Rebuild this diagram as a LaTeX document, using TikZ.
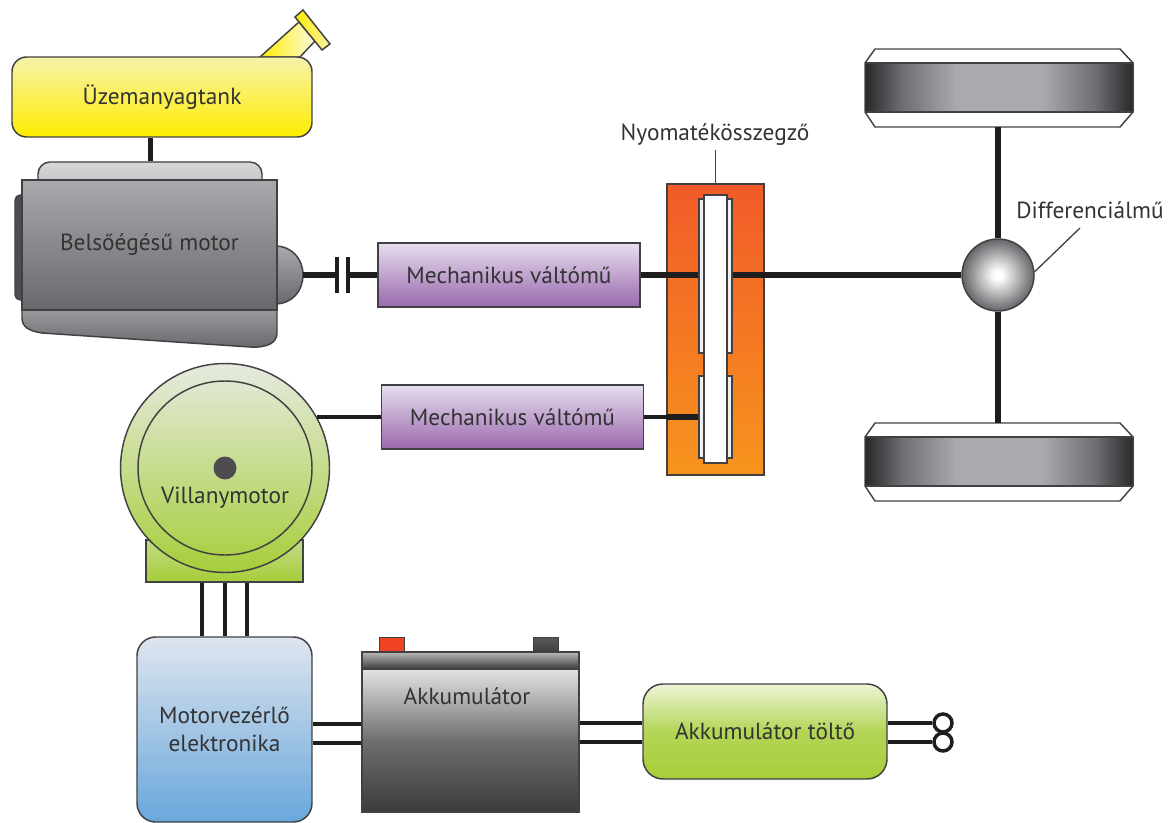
\documentclass[tikz,border=0pt]{standalone}
\usepackage{fontspec}
\setmainfont{PT Sans}
\usetikzlibrary{calc}

\definecolor{tankyellow}{RGB}{255,237,0}
\definecolor{tanklight}{RGB}{246,242,170}
\definecolor{covertop}{RGB}{214,215,217}
\definecolor{coverbot}{RGB}{186,188,190}
\definecolor{englight}{RGB}{168,169,172}
\definecolor{engdark}{RGB}{104,105,108}
\definecolor{engcap}{RGB}{77,77,79}
\definecolor{gbtop}{RGB}{230,222,238}
\definecolor{gbbot}{RGB}{154,104,174}
\definecolor{cpltop}{RGB}{241,90,41}
\definecolor{cplbot}{RGB}{247,148,29}
\definecolor{mlight}{RGB}{230,234,224}
\definecolor{mgreen}{RGB}{166,206,57}
\definecolor{ctrltop}{RGB}{222,229,238}
\definecolor{ctrlbot}{RGB}{104,167,220}
\definecolor{battlight}{RGB}{226,227,228}
\definecolor{battdark}{RGB}{60,60,62}
\definecolor{tyredark}{RGB}{40,40,42}
\definecolor{tyremid}{RGB}{110,111,114}
\definecolor{tyrelight}{RGB}{168,170,173}
\definecolor{balledge}{RGB}{100,101,104}
\definecolor{outline}{RGB}{65,64,66}
\definecolor{txtgray}{RGB}{51,51,51}
\definecolor{shaftblack}{RGB}{30,30,30}
\definecolor{plusred}{RGB}{239,65,35}

\pgfdeclarehorizontalshading{tyre}{100bp}{color(0bp)=(tyredark); color(25bp)=(tyredark); color(32bp)=(tyremid); color(42bp)=(tyrelight); color(58bp)=(tyrelight); color(68bp)=(tyremid); color(75bp)=(tyredark); color(100bp)=(tyredark)}
\pgfdeclareradialshading{diffball}{\pgfpoint{0bp}{0bp}}{color(0bp)=(white); color(3bp)=(white); color(25bp)=(balledge); color(50bp)=(balledge)}

\newcommand{\labelfont}{\fontsize{17.5pt}{21pt}\selectfont}

\tikzset{every picture/.style={line width=0.75pt}}
\tikzset{
	part/.style={draw=outline, line width=1.1pt, inner sep=0pt, text=txtgray, font=\labelfont},
	gearbox/.style={part, top color=gbtop, bottom color=gbbot, minimum width=196.5pt, minimum height=48pt},
	pad/.style={part, line width=0.8pt, fill=gray!12, minimum width=24.75pt},
	shaft/.style={draw=shaftblack, line width=4.5pt},
	wire/.style={draw=shaftblack, line width=3pt},
	leader/.style={draw=outline, line width=1pt},
	lbl/.style={inner sep=0pt, text=txtgray, font=\labelfont},
	plug/.style={circle, draw=shaftblack, line width=2.6pt, fill=white, minimum size=13.5pt, inner sep=0pt},
}

\begin{document}
\begin{tikzpicture}[x=0.75pt,y=0.75pt,yscale=-1,xscale=1]
	\path[use as bounding box] (0,0) rectangle (1173,823);

	%Shape: Filler neck and cap
	\draw[draw=outline, line width=1.1pt, left color=tankyellow, right color=tanklight!40!white] (260,57) -- (299,22) -- (315,41) -- (300,57) -- cycle;
	\draw[draw=outline, line width=1.1pt, left color=tankyellow, right color=tanklight] (295,17) -- (303,10) -- (330,44) -- (322,50) -- cycle;
	% Fuel tank
	\node[part, top color=tanklight, bottom color=tankyellow, rounded corners=11pt, minimum width=225pt, minimum height=60pt] (tank) at (162,97) {Üzemanyagtank};

	%Shape: Engine cover, side cap, sump, flywheel housing
	\node[part, top color=covertop, bottom color=coverbot, rounded corners=9pt, minimum width=168pt, minimum height=24pt] (icetop) at (150,178) {};
	\draw[draw=outline, line width=1.1pt, fill=engcap, rounded corners=4pt] (24,195) -- (15,195) -- (15,300) -- (24,300);
	\draw[draw=outline, line width=1.1pt, top color=englight!80!engdark, bottom color=engdark] (22,308) -- (22,318) .. controls (22,327) and (29,331) .. (42,333) -- (250,347) .. controls (267,348) and (277,343) .. (277,333) -- (277,308) -- cycle;
	\draw[draw=outline, line width=1.1pt, top color=englight, bottom color=engdark] (275,246) .. controls (292,246) and (303,259) .. (303,275) .. controls (303,291) and (292,304) .. (275,304) -- cycle;
	% Combustion engine
	\node[part, top color=englight, bottom color=engdark, minimum width=191.25pt, minimum height=97.5pt] (ice) at (149.5,245) {Belsőégésű motor};
	\coordinate (flyw) at (303,275);
	\coordinate (clA) at (337,275);
	\coordinate (clB) at (348,275);

	%Straight Lines: fuel line
	\draw[shaft, line width=3.75pt] (icetop.north) -- (icetop.north |- tank.south);

	% Gearboxes
	\node[gearbox] (gbA) at (509,275) {Mechanikus váltómű};
	\node[gearbox] (gbB) at (512.5,417) {Mechanikus váltómű};

	%Straight Lines: clutch
	\draw[shaft] (flyw) -- (clA);
	\draw[shaft] (clB) -- (gbA.west);
	\foreach \c in {clA,clB}
		\draw[shaft, line width=3pt] ($(\c)+(0,-18)$) -- ($(\c)+(0,18)$);

	% Torque coupler
	\node[part, top color=cpltop, bottom color=cplbot, minimum width=72.75pt, minimum height=218.25pt] (cpl) at (715.5,329.5) {};
	\node[pad, minimum height=115.5pt] (padA) at (715.5,276) {};
	\node[pad, minimum height=61.5pt] (padB) at (715.5,417) {};
	\node[part, line width=0.8pt, fill=white, minimum width=17.25pt, minimum height=201pt] (disc) at (715.5,329) {};
	\node[lbl] (cpllbl) at (715,135) {Nyomatékösszegző};
	\draw[leader] (cpl.north) -- ($(cpl.north |- cpllbl.south)+(0,4)$);

	%Shape: Wheels
	\foreach \wy in {49,423} {
		\path[shading=tyre] (865,\wy+14) rectangle (1133,\wy+63);
		\draw[draw=outline, line width=1.1pt] (875,\wy) -- (1120,\wy) -- (1133,\wy+14) -- (1133,\wy+63) -- (1120,\wy+78) -- (875,\wy+78) -- (865,\wy+63) -- (865,\wy+14) -- cycle;
		\draw[draw=outline, line width=1.1pt] (865,\wy+14) -- (1133,\wy+14) (865,\wy+63) -- (1133,\wy+63);
	}
	\coordinate (axT) at (998,127);
	\coordinate (axB) at (998,423);

	% Differential
	\node[circle, draw=outline, line width=1.1pt, shading=diffball, minimum size=54pt, inner sep=0pt] (diff) at (998,275) {};
	\draw[shaft] (diff.north) -- (axT);
	\draw[shaft] (diff.south) -- (axB);
	\node[lbl] (difflbl) at (1090,210) {Differenciálmű};
	\coordinate (diffpin) at (1080,228);
	\draw[leader] (diffpin) -- (diff.5);

	%Straight Lines: shafts through the coupler
	\draw[shaft] (gbA.east) -- (padA.west |- gbA.east);
	\draw[shaft] (padA.east |- gbA.east) -- (diff.west);
	\draw[wire] (gbB.east) -- (cpl.west |- gbB.east);
	\draw[shaft] (cpl.west |- gbB.east) -- (padB.west |- gbB.east);

	% Electric motor
	\node[part, top color=mgreen!55!mlight, bottom color=mgreen, minimum width=117.75pt, minimum height=31.5pt] (mbase) at (224.5,561) {};
	\node[part, circle, top color=mlight, bottom color=mgreen, minimum size=156.75pt] (motor) at (225,468) {};
	\draw[draw=outline, line width=1.1pt] (motor.center) circle (87);
	\fill[engcap] (motor.center) circle (11.5);
	\node[lbl] (mlabel) at (225,498) {Villanymotor};
	\draw[wire] (motor.29) -- (motor.29 -| gbB.west);

	% Motor controller
	\node[part, top color=ctrltop, bottom color=ctrlbot, rounded corners=14pt, minimum width=131.25pt, minimum height=138.75pt, align=center] (ctrl) at (224.5,729.5) {Motorvezérlő\\elektronika};
	\foreach \dx in {-22.5,0,22.5}
		\draw[wire] ($(mbase.south)+(\dx,0)$) -- ($(ctrl.north)+(\dx,0)$);

	% Battery
	\node[part, fill=plusred, minimum width=18.75pt, minimum height=11.25pt] (plus) at (392,645) {};
	\node[part, top color=gray!70!black, bottom color=battdark, minimum width=18.75pt, minimum height=11.25pt] (minus) at (546,645) {};
	\node[part, top color=gray!55, bottom color=battdark, minimum width=162.75pt, minimum height=12.75pt] (lid) at (470.5,660.5) {};
	\node[part, top color=battlight, bottom color=battdark, middle color=battdark!70!battlight, minimum width=162.75pt, minimum height=107.25pt] (batt) at (470.5,740.5) {};
	\node[lbl] (battlbl) at (467,696) {Akkumulátor};
	\foreach \wy in {724,743}
		\draw[wire] (ctrl.east |- 0,\wy) -- (batt.west |- 0,\wy);

	% Charger
	\node[part, top color=mgreen!20!white, bottom color=mgreen, middle color=mgreen!85!white, rounded corners=15pt, minimum width=183pt, minimum height=71.25pt] (chg) at (765,731.5) {Akkumulátor töltő};
	\foreach \wy in {723,742}
		\draw[wire] (batt.east |- 0,\wy) -- (chg.west |- 0,\wy);
	\node[plug] (plugA) at (943,723) {};
	\node[plug] (plugB) at (943,742) {};
	\draw[wire] (chg.east |- plugA) -- (plugA.west);
	\draw[wire] (chg.east |- plugB) -- (plugB.west);
\end{tikzpicture}
\end{document}
